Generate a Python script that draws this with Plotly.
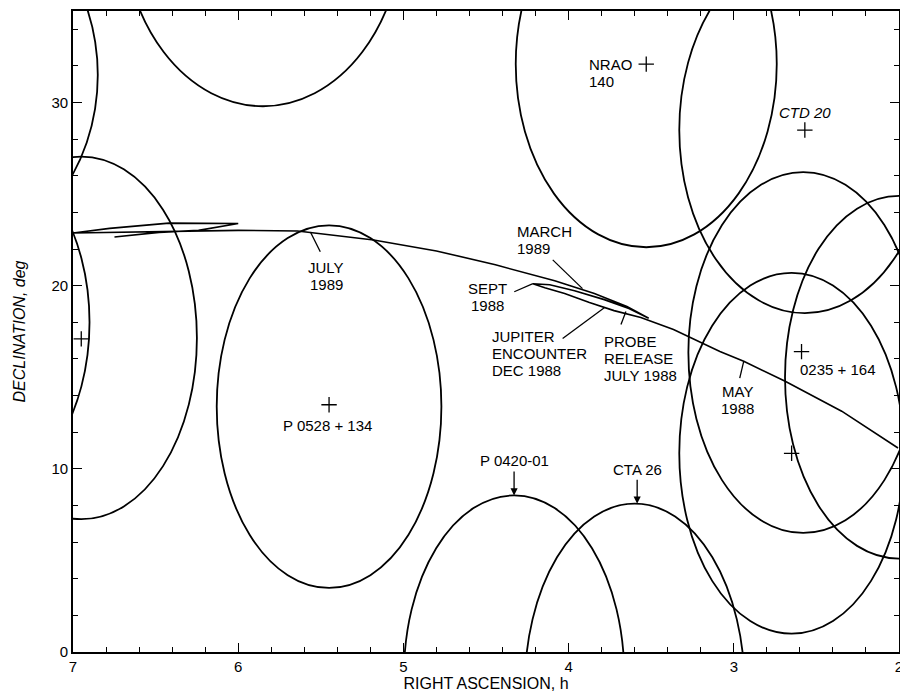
import plotly.graph_objects as go

# ---------------- data ----------------
# beam/avoidance circles around radio sources (centre RA h, centre Dec deg, semi-axes)
ell_ra = [7.80, 7.60, 6.95, 5.85, 5.45, 3.53, 2.57, 2.58, 2.65, 2.00, 4.33, 3.60]
ell_dec = [31.5, 18.0, 17.15, 39.9, 13.4, 32.1, 28.5, 16.35, 10.85, 15.0, -1.3, -1.9]
ell_a = [0.95, 0.70, 0.70, 0.85, 0.68, 0.79, 0.76, 0.695, 0.68, 0.69, 0.667, 0.665]
ell_b = [10.0, 9.5, 9.9, 10.1, 9.9, 10.0, 10.0, 9.85, 9.85, 9.9, 9.85, 10.0]

# radio source positions (plus markers)
src_ra = [6.95, 5.45, 3.53, 2.57, 2.59, 2.65]
src_dec = [17.1, 13.5, 32.1, 28.5, 16.4, 10.85]

# spacecraft trajectory as seen from Earth
traj_ra = [2.006, 2.347, 2.689, 2.940, 3.084, 3.365, 3.563,
           3.725, 3.874, 4.024, 4.144, 4.216,
           4.114, 3.964, 3.784, 3.635, 3.515,
           3.647, 3.844, 4.084, 4.443, 4.80, 5.18, 5.641, 6.0, 6.539, 7.0,
           6.778, 6.419, 6.0, 6.240, 6.479, 6.749]
traj_dec = [11.14, 13.15, 14.78, 15.87, 16.41, 17.61, 18.26,
            18.64, 19.08, 19.57, 19.89, 20.11,
            20.05, 19.73, 19.24, 18.75, 18.22,
            18.86, 19.57, 20.27, 21.14, 21.9, 22.5, 22.99, 23.02, 22.96, 22.88,
            23.13, 23.42, 23.40, 23.02, 22.91, 22.66]

# labels: text lines, x, y, anchor, leader (x0, y0, x1, y1) or None
labels = [
    (["NRAO", "140"], 3.89, 31.6, "left", None),
    (["<i>CTD 20</i>"], 2.569, 29.46, "center", None),
    (["0235 + 164"], 2.371, 15.43, "center", None),
    (["P 0528 + 134"], 5.461, 12.39, "center", None),
    (["JULY", "1989"], 5.467, 20.54, "center", (5.563, 22.93, 5.503, 21.85)),
    (["SEPT", "1988"], 4.491, 19.40, "center", (4.329, 19.67, 4.216, 20.11)),
    (["MARCH", "1989"], 4.323, 22.47, "left", (4.096, 21.41, 3.916, 19.84)),
    (["JUPITER", "ENCOUNTER", "DEC 1988"], 4.473, 16.28, "left", (4.036, 17.12, 3.784, 18.80)),
    (["PROBE", "RELEASE", "JULY 1988"], 3.796, 16.0, "left", (3.683, 17.88, 3.653, 18.59)),
    (["MAY", "1988"], 2.976, 13.75, "center", (2.964, 14.95, 2.940, 15.87)),
]
arrow_labels = [("P 0420-01", 4.33, 8.55), ("CTA 26", 3.585, 8.1)]

x_ticks = [7, 6, 5, 4, 3, 2]
y_ticks = [0, 10, 20, 30]

FONT = "Liberation Sans"
LINE_H = 17

fig = go.Figure()

shapes = []
for cx, cy, a, b in zip(ell_ra, ell_dec, ell_a, ell_b):
    shapes.append(dict(type="circle", xref="x", yref="y",
                       x0=cx - a, x1=cx + a, y0=cy - b, y1=cy + b,
                       line=dict(color="black", width=1.8)))

for lines, x, y, anc, lead in labels:
    if lead is not None:
        shapes.append(dict(type="line", xref="x", yref="y",
                           x0=lead[0], y0=lead[1], x1=lead[2], y1=lead[3],
                           line=dict(color="black", width=1.3)))

fig.add_trace(go.Scatter(x=traj_ra, y=traj_dec, mode="lines",
                         line=dict(color="black", width=1.6),
                         hoverinfo="skip", showlegend=False))

fig.add_trace(go.Scatter(x=src_ra, y=src_dec, mode="markers",
                         marker=dict(symbol="cross-thin", size=11,
                                     line=dict(color="black", width=1.3)),
                         hoverinfo="skip", showlegend=False))

annotations = []
for lines, x, y, anc, lead in labels:
    n = len(lines)
    for i, ln in enumerate(lines):
        annotations.append(dict(x=x, y=y, xref="x", yref="y", text=ln,
                                showarrow=False, xanchor=anc, yanchor="middle",
                                yshift=((n - 1) / 2 - i) * LINE_H,
                                font=dict(family=FONT, size=15, color="black")))
for text, x, y in arrow_labels:
    annotations.append(dict(x=x, y=y, xref="x", yref="y", text=text,
                            showarrow=True, arrowhead=2, arrowsize=1.1,
                            arrowwidth=1.3, arrowcolor="black",
                            ax=0, ay=-24, yanchor="bottom",
                            font=dict(family=FONT, size=15, color="black")))

axis_common = dict(showline=True, linecolor="black", linewidth=1.6,
                   mirror="allticks", ticks="inside", tickcolor="black",
                   tickwidth=1.4, ticklen=9, showgrid=False, zeroline=False,
                   ticklabeloverflow="allow",
                   tickfont=dict(family=FONT, size=15, color="black"))

# page body has an 8px margin; keep the whole figure inside the visible window
fig.update_layout(
    width=892, height=684,
    margin=dict(l=65, r=1, t=3, b=40),
    paper_bgcolor="white", plot_bgcolor="white",
    shapes=shapes, annotations=annotations,
    xaxis=dict(range=[7, 2], tickvals=x_ticks,
               minor=dict(dtick=0.2, ticks="inside", ticklen=5,
                          tickwidth=1.2, tickcolor="black"),
               title=dict(text="RIGHT ASCENSION, h", standoff=6,
                          font=dict(family=FONT, size=16, color="black")),
               automargin=False,
               **axis_common),
    yaxis=dict(range=[0, 35], tickvals=y_ticks,
               minor=dict(dtick=2, ticks="inside", ticklen=5,
                          tickwidth=1.2, tickcolor="black"),
               title=dict(text="<i>DECLINATION, deg</i>", standoff=22,
                          font=dict(family=FONT, size=16, color="black")),
               automargin=False,
               **axis_common),
)

fig.write_html("out.html")
